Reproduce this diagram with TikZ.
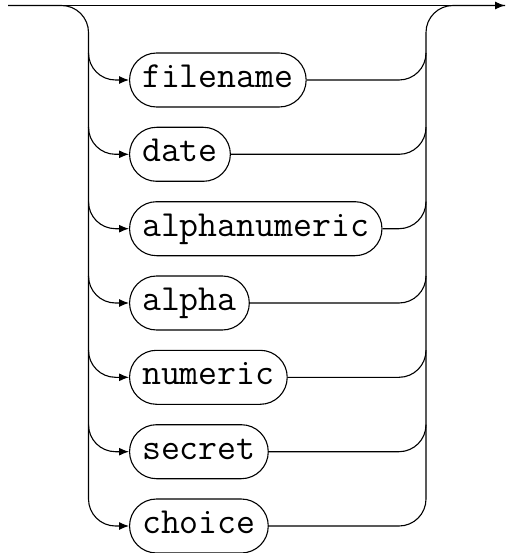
\documentclass[tikz,border=0pt]{standalone}
\usepackage{fontspec}
\usetikzlibrary{arrows.meta,calc}
\begin{document}
\begin{tikzpicture}[x=1pt,y=1pt,
  rail/.style={line width=1.1pt,rounded corners=27pt},
  arr/.style={-{Latex[length=10pt,width=8pt]}},
  term/.style={draw,line width=1.1pt,rounded corners=27pt,minimum height=54pt,
    inner xsep=12.5pt,inner ysep=0pt,text height=21pt,text depth=6pt,
    font=\ttfamily\fontsize{36.8}{40}\selectfont,anchor=west}]
\useasboundingbox (0,0) rectangle (505,-553);
\coordinate (L) at (88.5,0);
\coordinate (R) at (426,0);
\coordinate (start) at (8,-5.5);
\coordinate (end) at (505,-5.5);
\node[term] (n1) at (129,-80) {filename};
\node[term] (n2) at (129,-154.3) {date};
\node[term] (n3) at (129,-228.7) {alphanumeric};
\node[term] (n4) at (129,-303) {alpha};
\node[term] (n5) at (129,-377.3) {numeric};
\node[term] (n6) at (129,-451.7) {secret};
\node[term] (n7) at (129,-526) {choice};
% main line
\draw[rail,arr] (start) -- (end);
% left rail down to last choice
\draw[rail,arr] (start) -- (start -| L) -- (n7.west -| L) -- (n7.west);
% right rail from last choice up to main line
\draw[rail] (n7.east) -- (n7.east -| R) -- (end -| R) -- (end);
% branches
\foreach \n in {n1,n2,n3,n4,n5,n6}{
  \draw[rail,arr] ($(\n.west -| L)+(0,27)$) -- (\n.west -| L) -- (\n.west);
  \draw[rail] (\n.east) -- (\n.east -| R) -- ($(\n.east -| R)+(0,27)$);
}
\end{tikzpicture}
\end{document}
